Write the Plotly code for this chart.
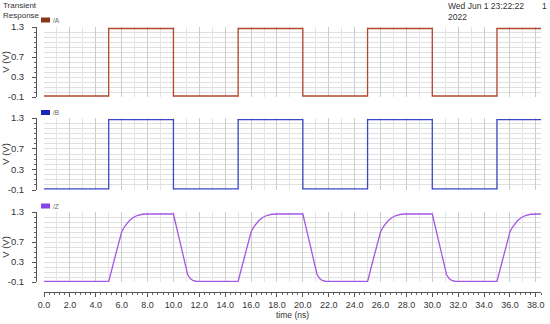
import plotly.graph_objects as go

# ---- data ----
A_t = [0, 5, 10, 15, 20, 25, 30, 35, 38.4]
A_v = [-0.08, 1.27, -0.08, 1.27, -0.08, 1.27, -0.08, 1.27, 1.27]
B_t = [0, 5, 10, 15, 20, 25, 30, 35, 38.4]
B_v = [-0.08, 1.27, -0.08, 1.27, -0.08, 1.27, -0.08, 1.27, 1.27]
Z_t = [0, 5.0, 5.5, 6.0, 6.2, 6.4, 6.6, 6.9, 7.2, 7.6, 8.0,
       10.0, 10.4, 10.8, 10.95, 11.1, 11.3, 11.5, 11.8,
       15.0, 15.5, 16.0, 16.2, 16.4, 16.6, 16.9, 17.2, 17.6, 18.0,
       20.0, 20.4, 20.8, 20.95, 21.1, 21.3, 21.5, 21.8,
       25.0, 25.5, 26.0, 26.2, 26.4, 26.6, 26.9, 27.2, 27.6, 28.0,
       30.0, 30.4, 30.8, 30.95, 31.1, 31.3, 31.5, 31.8,
       35.0, 35.5, 36.0, 36.2, 36.4, 36.6, 36.9, 37.2, 37.6, 38.0, 38.4]
Z_v = [-0.09, -0.09, 0.41, 0.9, 1.0, 1.07, 1.13, 1.19, 1.23, 1.255, 1.26,
       1.26, 0.8, 0.34, 0.17, 0.05, -0.03, -0.07, -0.09,
       -0.09, 0.41, 0.9, 1.0, 1.07, 1.13, 1.19, 1.23, 1.255, 1.26,
       1.26, 0.8, 0.34, 0.17, 0.05, -0.03, -0.07, -0.09,
       -0.09, 0.41, 0.9, 1.0, 1.07, 1.13, 1.19, 1.23, 1.255, 1.26,
       1.26, 0.8, 0.34, 0.17, 0.05, -0.03, -0.07, -0.09,
       -0.09, 0.41, 0.9, 1.0, 1.07, 1.13, 1.19, 1.23, 1.255, 1.26, 1.26]
signal_names = ["/A", "/B", "/Z"]
line_colors = ["#b4462e", "#3a48c8", "#a458e4"]
box_colors = ["#8a3418", "#1a28b8", "#8a44e6"]
y_tickvals = [-0.1, 0.3, 0.7, 1.3]
y_ticktext = ["-0.1", "0.3", "0.7", "1.3"]
x_tickvals = [0, 2, 4, 6, 8, 10, 12, 14, 16, 18, 20, 22, 24, 26, 28, 30, 32, 34, 36, 38]
x_ticktext = ["%.1f" % v for v in x_tickvals]
title_text = "Transient<br>Response"
date_text = "Wed Jun 1 23:22:22<br>2022"
page_text = "1"
x_title = "time (ns)"
y_title = "V (V)"

W, H = 550, 324
def py(p):
    return 1 - p / H

# panel pixel extents (top, bottom)
panels = [(27, 97), (118, 190), (212, 282)]
x_dom = [44 / W, 541 / W]
X_RANGE = [0, 38.4]
Y_RANGE = [-0.1, 1.3]
FONT = "Liberation Sans, Arial, sans-serif"

fig = go.Figure()
series = [(A_t, A_v, "hv"), (B_t, B_v, "hv"), (Z_t, Z_v, "linear")]
for i, (t, v, shape) in enumerate(series):
    fig.add_trace(go.Scatter(x=t, y=v, mode="lines", line=dict(color=line_colors[i], width=1.3, shape=shape),
                             xaxis="x" if i == 0 else "x%d" % (i + 1),
                             yaxis="y" if i == 0 else "y%d" % (i + 1), showlegend=False, hoverinfo="skip"))
# empty trace for the bottom time ruler axis
fig.add_trace(go.Scatter(x=[], y=[], xaxis="x4", yaxis="y3", showlegend=False))

lay = dict(width=W, height=H, margin=dict(l=0, r=0, t=0, b=0, autoexpand=False),
           paper_bgcolor="white", plot_bgcolor="white",
           font=dict(family=FONT, size=9, color="#333333"))
for i, (top, bot) in enumerate(panels):
    xn = "xaxis" if i == 0 else "xaxis%d" % (i + 1)
    yn = "yaxis" if i == 0 else "yaxis%d" % (i + 1)
    ya = "y" if i == 0 else "y%d" % (i + 1)
    lay[xn] = dict(domain=x_dom, range=X_RANGE, anchor=ya, showticklabels=False, ticks="",
                   tickvals=x_tickvals, showgrid=True, gridcolor="#cccccc", gridwidth=1, zeroline=False,
                   showline=False, automargin=False,
                   minor=dict(dtick=1, showgrid=True, gridcolor="#e4e4e4", ticks=""))
    lay[yn] = dict(domain=[py(bot), py(top)], range=Y_RANGE, anchor="free", position=36 / W,
                   tickvals=y_tickvals, ticktext=y_ticktext, ticks="outside", ticklen=4, tickcolor="#555555",
                   showline=True, linecolor="#555555", linewidth=1, showgrid=False, zeroline=False,
                   automargin=False, tickfont=dict(size=9.5, color="#333333"), ticklabelstandoff=6,
                   minor=dict(tick0=-0.1, dtick=0.1, ticks="outside", ticklen=2, tickcolor="#666666",
                              showgrid=True, gridcolor="#e0e0e0"),
                   title=dict(text=y_title, font=dict(size=9.5, color="#333333"), standoff=3))
lay["xaxis4"] = dict(domain=x_dom, range=X_RANGE, anchor="free", overlaying="x3", position=py(292),
                     side="bottom", tickvals=x_tickvals, ticktext=x_ticktext, ticks="outside", ticklen=4,
                     tickcolor="#555555", showline=True, linecolor="#555555", showgrid=False, zeroline=False,
                     automargin=False, tickfont=dict(size=9, color="#333333"),
                     minor=dict(dtick=0.4, ticks="outside", ticklen=2, tickcolor="#666666", showgrid=False),
                     title=dict(text=x_title, font=dict(size=8.5, color="#333333"), standoff=3))
fig.update_layout(**lay)

# panel legends
legend_y = [20, 112.5, 206]
for i in range(3):
    fig.add_shape(type="rect", xref="paper", yref="paper", x0=41 / W, x1=50 / W,
                  y0=py(legend_y[i] + 2.5), y1=py(legend_y[i] - 2.5), fillcolor=box_colors[i], line=dict(width=0))
    fig.add_annotation(xref="paper", yref="paper", x=51 / W, y=py(legend_y[i]), text=signal_names[i],
                       showarrow=False, xanchor="left", yanchor="middle", font=dict(size=6.5, color="#666666"))

fig.add_annotation(xref="paper", yref="paper", x=1 / W, y=1, text=title_text, showarrow=False, xanchor="left",
                   yanchor="top", align="left", font=dict(size=8, color="#333333"), yshift=1)
fig.add_annotation(xref="paper", yref="paper", x=446 / W, y=1, text=date_text, showarrow=False, xanchor="left",
                   yanchor="top", align="left", font=dict(size=8.5, color="#333333"), yshift=1)
fig.add_annotation(xref="paper", yref="paper", x=544 / W, y=1, text=page_text, showarrow=False, xanchor="center",
                   yanchor="top", align="left", font=dict(size=8.5, color="#333333"), yshift=1)

fig.write_html("out.html", config={"displayModeBar": False},
               post_script="document.body.style.margin='0';document.body.style.overflow='hidden';")
